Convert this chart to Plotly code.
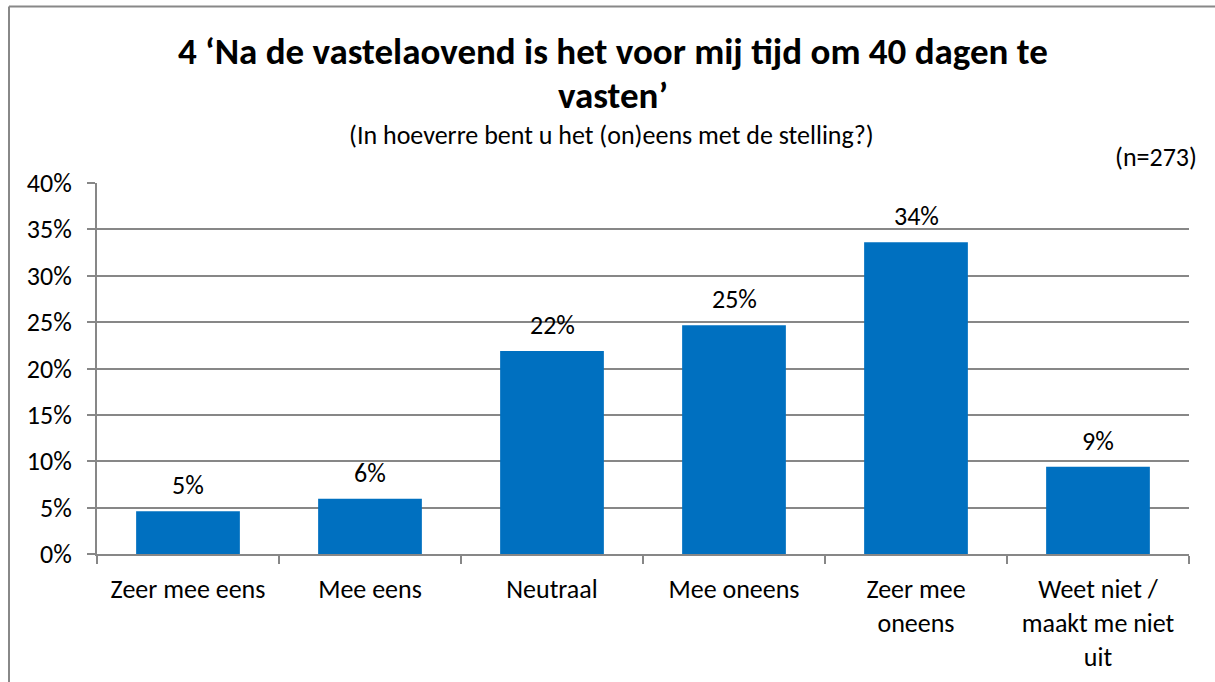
import plotly.graph_objects as go

categories = ["Zeer mee eens", "Mee eens", "Neutraal", "Mee oneens",
              "Zeer mee<br>oneens", "Weet niet /<br>maakt me niet<br>uit"]
values = [4.6, 5.95, 21.9, 24.65, 33.6, 9.4]
labels = ["5%", "6%", "22%", "25%", "34%", "9%"]
yticks = [0, 5, 10, 15, 20, 25, 30, 35, 40]
ytick_text = ["0%", "5%", "10%", "15%", "20%", "25%", "30%", "35%", "40%"]

FONT = "Carlito, Calibri, Lato, sans-serif"
GRID = "#878787"

W, H = 1215, 682
L, R, T, B = 97, 26, 183, 128
pw, ph = W - L - R, H - T - B

def px(x):
    return (x - L) / pw

def py(y):
    return (H - B - y) / ph

fig = go.Figure()
fig.add_trace(go.Bar(
    x=categories, y=values,
    marker=dict(color="#0070C0", line=dict(width=0)),
    hoverinfo="skip",
))

for c, v, t in zip(categories, values, labels):
    fig.add_annotation(x=c, y=v, text=t, showarrow=False, yshift=26,
                       xref="x", yref="y", xanchor="center", yanchor="middle",
                       font=dict(family=FONT, size=26, color="#000000"))

def txt(x, y, s, size, xanchor="center"):
    fig.add_annotation(x=px(x), y=py(y), xref="paper", yref="paper",
                       text=s, showarrow=False, xanchor=xanchor, yanchor="middle",
                       font=dict(family=FONT, size=size, color="#000000"))

txt(613, 52, "<b>4 ‘Na de vastelaovend is het voor mij tijd om 40 dagen te</b>", 37)
txt(613, 95, "<b>vasten’</b>", 37)
txt(611, 135, "(In hoeverre bent u het (on)eens met de stelling?)", 26)
txt(1199, 157, "(n=273)", 26, xanchor="right")

# outer frame (left and top lines)
fig.add_shape(type="line", xref="paper", yref="paper",
              x0=px(9), x1=px(9), y0=py(6.5), y1=py(700),
              line=dict(color="#888888", width=2))
fig.add_shape(type="line", xref="paper", yref="paper",
              x0=px(9), x1=px(1230), y0=py(6.5), y1=py(6.5),
              line=dict(color="#888888", width=2))

fig.update_layout(
    width=W, height=H,
    margin=dict(l=L, r=R, t=T, b=B, autoexpand=False),
    paper_bgcolor="white", plot_bgcolor="white",
    showlegend=False, bargap=0.43,
    font=dict(family=FONT, size=26, color="#000000"),
)
fig.update_xaxes(
    type="category", automargin=False,
    showgrid=False, showline=True, linecolor=GRID, linewidth=2,
    ticks="outside", tickson="boundaries", ticklen=8, tickcolor=GRID, tickwidth=2,
    tickfont=dict(family=FONT, size=26, color="#000000"),
    ticklabelstandoff=11,
)
fig.update_yaxes(
    range=[0, 40], tickmode="array", tickvals=yticks, ticktext=ytick_text,
    automargin=False,
    showgrid=True, gridcolor=GRID, gridwidth=1.5,
    showline=True, linecolor=GRID, linewidth=2,
    ticks="outside", ticklen=8, tickcolor=GRID, tickwidth=1.5,
    tickfont=dict(family=FONT, size=26, color="#000000"),
    ticklabelstandoff=10, zeroline=False,
)

fig.write_html(
    "out.html",
    config={"displayModeBar": False},
    post_script=(
        "document.body.style.margin='0';"
        "document.documentElement.style.overflow='hidden';"
        "document.body.style.overflow='hidden';"
    ),
)
